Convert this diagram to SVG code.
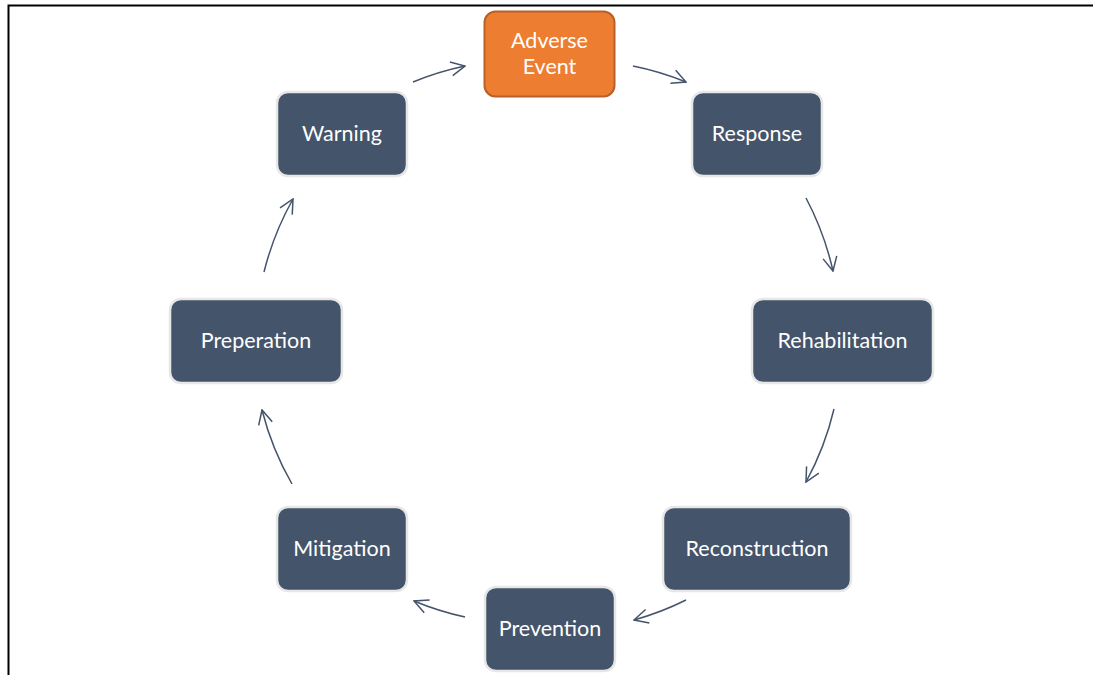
<svg xmlns="http://www.w3.org/2000/svg" width="1093" height="675" viewBox="0 0 1093 675">
  <defs>
    <style>
      .node rect { fill: #44546A; stroke: #E7E7E7; stroke-width: 2.5; }
      .node.hot rect { fill: #ED7D31; stroke: #B9602A; stroke-width: 2; }
      .node text { font-family: Lato, "Open Sans", sans-serif; font-size: 21.5px; fill: #FFFFFF; text-anchor: middle; dominant-baseline: central; }
      .edge { fill: none; stroke: #44546A; stroke-width: 1.5; marker-end: url(#chev); }
    </style>
    <marker id="chev" viewBox="0 0 16 16" refX="15" refY="8" markerWidth="16" markerHeight="16" markerUnits="userSpaceOnUse" orient="auto">
      <path d="M1,1 L15,8 L1,15" fill="none" stroke="#44546A" stroke-width="1.5"/>
    </marker>
  </defs>

  <rect width="1093" height="675" fill="#FFFFFF"/>
  <!-- page frame -->
  <path d="M8.5,675 V5.5 H1093" fill="none" stroke="#000000" stroke-width="2"/>

  <g id="connectors">
    <path class="edge" d="M413,82 A293,293 0 0 1 465,66"/>
    <path class="edge" d="M633,66 A293,293 0 0 1 686,82"/>
    <path class="edge" d="M806,198 A293,293 0 0 1 833,271"/>
    <path class="edge" d="M834,409 A293,293 0 0 1 806,482"/>
    <path class="edge" d="M686,600 A293,293 0 0 1 634,620"/>
    <path class="edge" d="M465,617 A293,293 0 0 1 414,601"/>
    <path class="edge" d="M292,484 A293,293 0 0 1 262,410"/>
    <path class="edge" d="M264,272 A293,293 0 0 1 293,199"/>
  </g>

  <g id="adverse-event" class="node hot">
    <rect x="484.5" y="11.5" width="130" height="85" rx="11"/>
    <text x="549.5" y="40">Adverse</text>
    <text x="549.5" y="66">Event</text>
  </g>
  <g id="response" class="node">
    <rect x="692" y="92" width="130" height="84" rx="11"/>
    <text x="757" y="133">Response</text>
  </g>
  <g id="rehabilitation" class="node">
    <rect x="752" y="299" width="181" height="84" rx="11"/>
    <text x="842.5" y="340">Rehabilitation</text>
  </g>
  <g id="reconstruction" class="node">
    <rect x="663" y="507" width="188" height="84" rx="11"/>
    <text x="757" y="548">Reconstruction</text>
  </g>
  <g id="prevention" class="node">
    <rect x="485" y="587" width="130" height="84" rx="11"/>
    <text x="550" y="628">Prevention</text>
  </g>
  <g id="mitigation" class="node">
    <rect x="277" y="507" width="130" height="84" rx="11"/>
    <text x="342" y="548">Mitigation</text>
  </g>
  <g id="preperation" class="node">
    <rect x="170" y="299" width="172" height="84" rx="11"/>
    <text x="256" y="340">Preperation</text>
  </g>
  <g id="warning" class="node">
    <rect x="277" y="92" width="130" height="84" rx="11"/>
    <text x="342" y="133">Warning</text>
  </g>
</svg>
